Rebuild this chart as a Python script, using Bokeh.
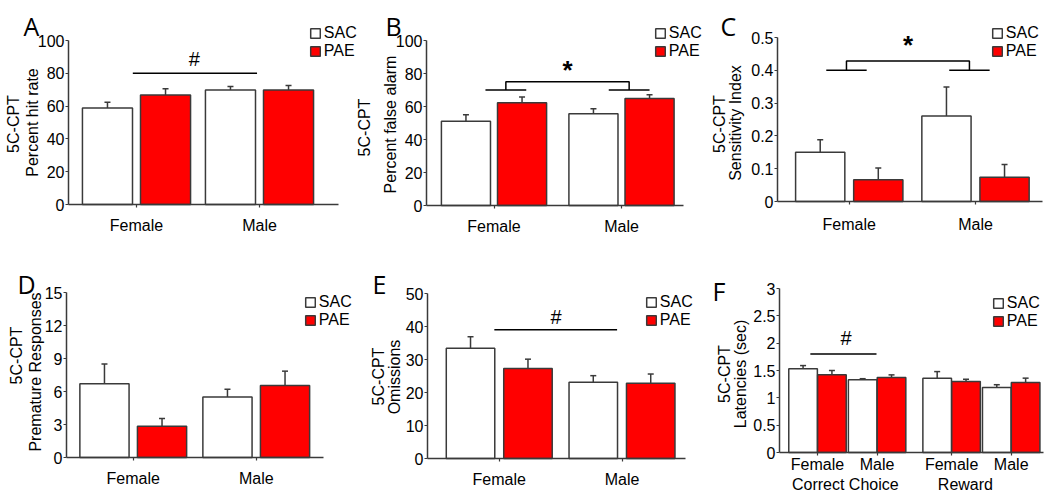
import numpy as np
from bokeh.plotting import figure
from bokeh.models import (Range1d, FixedTicker, NumeralTickFormatter, Whisker, TeeHead,
                          ColumnDataSource, Label, Legend, LegendItem, LinearAxis)
from bokeh.core.properties import value
from bokeh.transform import dodge
from bokeh.embed import file_html
from bokeh.resources import INLINE

# ---------------- data ----------------
sexes = ["Female", "Male"]
treatments = ["SAC", "PAE"]

hit_rate_sac = [58.8, 69.8]
hit_rate_sac_sem = [3.5, 2.2]
hit_rate_pae = [66.7, 69.8]
hit_rate_pae_sem = [3.9, 2.8]

false_alarm_sac = [51.1, 55.6]
false_alarm_sac_sem = [3.9, 3.0]
false_alarm_pae = [62.2, 64.8]
false_alarm_pae_sem = [3.5, 2.3]

sensitivity_sac = [0.150, 0.261]
sensitivity_sac_sem = [0.038, 0.088]
sensitivity_pae = [0.066, 0.074]
sensitivity_pae_sem = [0.036, 0.039]

premature_sac = [6.7, 5.5]
premature_sac_sem = [1.8, 0.7]
premature_pae = [2.85, 6.55]
premature_pae_sem = [0.7, 1.3]

omissions_sac = [33.4, 23.1]
omissions_sac_sem = [3.5, 2.0]
omissions_pae = [27.3, 22.8]
omissions_pae_sem = [2.8, 2.8]

latency_blocks = ["Correct Choice", "Reward"]
latency_sac = [1.53, 1.33, 1.36, 1.19]
latency_sac_sem = [0.06, 0.02, 0.12, 0.05]
latency_pae = [1.42, 1.37, 1.30, 1.28]
latency_pae_sem = [0.08, 0.05, 0.04, 0.08]

y_ticks_pct = [0, 20, 40, 60, 80, 100]
y_ticks_sens = [0, 0.1, 0.2, 0.3, 0.4, 0.5]
y_ticks_prem = [0, 3, 6, 9, 12, 15]
y_ticks_omis = [0, 10, 20, 30, 40, 50]
y_ticks_lat = [0, 0.5, 1, 1.5, 2, 2.5, 3]

# ---------------- style / layout ----------------
FONT = "Liberation Sans"
LETTER_FONT = "Open Sans"
EDGE = "#3a3a3a"
BAR_RED = "#ff0000"
FS = "16px"
W, H = 1050, 493

# pixel geometry of each panel: y-axis x, x-axis right end, baseline of y=0, top tick,
# centre of first group, pixels per group step
GEOM = {
    "A": dict(axis_x=68, axis_end=338, y0=204, ytop=40, c0=136.0, s=123.0),
    "B": dict(axis_x=426, axis_end=683, y0=205, ytop=40, c0=493.5, s=127.5),
    "C": dict(axis_x=777, axis_end=1042, y0=201, ytop=37, c0=848.75, s=126.25),
    "D": dict(axis_x=66, axis_end=323, y0=457, ytop=292, c0=132.75, s=123.0),
    "E": dict(axis_x=427, axis_end=685, y0=458, ytop=293, c0=498.75, s=122.75),
    "F": dict(axis_x=779, axis_end=1043, y0=452, ytop=288, c0=817.0, s=59.6),
}

# one canvas; the frame covers it entirely, the default ranges are page pixels (y downwards)
p = figure(width=W, height=H, x_range=Range1d(0, W), y_range=Range1d(H, 0),
           x_axis_type=None, y_axis_type=None, output_backend="svg",
           toolbar_location=None, min_border=0)
p.outline_line_color = None


def page_label(text, x, y, **kw):
    opts = dict(text_font=FONT, text_font_size=FS, text_color="black")
    opts.update(kw)
    p.add_layout(Label(x=x, y=y, text=text, **opts))


def add_panel(key, yticks, positions, labels, sac, sac_sem, pae, pae_sem, off, bw,
              ylabels, letter, letter_pos, legend_pos, x_standoff=9, numeral=False):
    g = GEOM[key]
    c0, s = g["c0"], g["s"]
    k = (g["y0"] - g["ytop"]) / yticks[-1]
    xn, yn = "x" + key, "y" + key
    p.extra_x_ranges = {**p.extra_x_ranges, xn: Range1d(-c0 / s, (W - c0) / s)}
    p.extra_y_ranges = {**p.extra_y_ranges, yn: Range1d(-(H - g["y0"]) / k, g["y0"] / k)}
    x_left = (g["axis_x"] - c0) / s
    x_right = (g["axis_end"] - c0) / s

    yax = LinearAxis(x_range_name=xn, y_range_name=yn, fixed_location=x_left,
                     bounds=(yticks[0], yticks[-1]), ticker=FixedTicker(ticks=yticks))
    if numeral:
        yax.formatter = NumeralTickFormatter(format="0.[0]")
    xax = LinearAxis(x_range_name=xn, y_range_name=yn, fixed_location=0,
                     bounds=(x_left, x_right), ticker=FixedTicker(ticks=positions),
                     major_label_overrides={pos: lab for pos, lab in zip(positions, labels)})
    for ax in (xax, yax):
        ax.axis_line_color = EDGE
        ax.axis_line_width = 1.5
        ax.major_tick_line_color = EDGE
        ax.major_tick_line_width = 1.2
        ax.minor_tick_line_color = None
        ax.major_tick_in = 0
        ax.major_tick_out = 3
        ax.major_label_text_font = FONT
        ax.major_label_text_font_size = FS
        ax.major_label_text_color = "black"
    yax.major_label_standoff = 1
    xax.major_label_standoff = x_standoff
    p.add_layout(yax, "left")
    p.add_layout(xax, "below")

    src = ColumnDataSource(dict(
        x=positions, sac=sac, pae=pae,
        sac_hi=[m + e for m, e in zip(sac, sac_sem)],
        pae_hi=[m + e for m, e in zip(pae, pae_sem)]))
    rends = []
    for key2, d, fill in (("sac", -off, "white"), ("pae", off, BAR_RED)):
        r = p.vbar(x=dodge("x", d), top=key2, bottom=0, width=bw, source=src,
                   fill_color=fill, line_color=EDGE, line_width=1.5,
                   x_range_name=xn, y_range_name=yn)
        rends.append(r)
        p.add_layout(Whisker(source=src, base=dodge("x", d), lower=key2, upper=key2 + "_hi",
                             line_color=EDGE, line_width=1.5, lower_head=None,
                             upper_head=TeeHead(size=6, line_color=EDGE, line_width=1.5),
                             x_range_name=xn, y_range_name=yn))

    # legend, positioned in page pixels from the frame's bottom-left
    lx, ly = legend_pos
    item_h = 18
    p.add_layout(Legend(
        items=[LegendItem(label=t, renderers=[r]) for t, r in zip(treatments, rends)],
        location=(lx - 1.2, H - (ly - item_h / 2) - 2 * item_h),
        padding=0, margin=0, spacing=0, border_line_color=None, background_fill_alpha=0,
        glyph_width=12, glyph_height=12, label_standoff=3, label_height=16,
        label_text_font=FONT, label_text_font_size=FS, label_text_color="black"))

    # two-line y-axis title and panel letter (page pixels)
    for text, (cx, cy) in ylabels:
        page_label(text, cx, cy, angle=np.pi / 2, text_align="center", text_baseline="middle")
    page_label(letter, letter_pos[0], letter_pos[1], text_font=LETTER_FONT,
               text_font_size="25px", text_align="left", text_baseline="alphabetic")
    return xn, yn


def hash_mark(rn, x0, x1, y_line, x_txt, y_txt):
    xn, yn = rn
    p.line(x=[x0, x1], y=[y_line, y_line], line_color="black", line_width=1.5,
           x_range_name=xn, y_range_name=yn)
    p.text(x=[x_txt], y=[y_txt], text=["#"], text_font=value(FONT), text_font_size="20px",
           text_align="center", text_baseline="alphabetic", text_color="black",
           x_range_name=xn, y_range_name=yn)


def star_bracket(rn, xa, xb, half, y_low, y_high, y_txt):
    xn, yn = rn
    p.multi_line(xs=[[xa - half, xa + half], [xa, xa, xb, xb], [xb - half, xb + half]],
                 ys=[[y_low, y_low], [y_low, y_high, y_high, y_low], [y_low, y_low]],
                 line_color="black", line_width=1.5, x_range_name=xn, y_range_name=yn)
    p.text(x=[(xa + xb) / 2], y=[y_txt], text=["*"], text_font=value(FONT), text_font_size="26px",
           text_font_style="bold", text_align="center", text_baseline="alphabetic",
           text_color="black", x_range_name=xn, y_range_name=yn)


sex_pos = list(range(len(sexes)))

rA = add_panel("A", y_ticks_pct, sex_pos, sexes, hit_rate_sac, hit_rate_sac_sem,
               hit_rate_pae, hit_rate_pae_sem, 0.236, 0.407,
               [("5C-CPT", (13, 123.5)), ("Percent hit rate", (32, 122))], "A", (23, 25), (310, 33))
hash_mark(rA, -0.03, 0.98, 80, 0.47, 89.0)

rB = add_panel("B", y_ticks_pct, sex_pos, sexes, false_alarm_sac, false_alarm_sac_sem,
               false_alarm_pae, false_alarm_pae_sem, 0.22, 0.385,
               [("5C-CPT", (364, 127)), ("Percent false alarm", (390, 124))], "B", (385, 25), (655, 33))
star_bracket(rB, 0.093, 1.06, 0.16, 70, 75, 82.0)

rC = add_panel("C", y_ticks_sens, sex_pos, sexes, sensitivity_sac, sensitivity_sac_sem,
               sensitivity_pae, sensitivity_pae_sem, 0.23, 0.39,
               [("5C-CPT", (719, 123.5)), ("Sensitivity Index", (735, 122.5))], "C", (720, 25), (992, 33),
               x_standoff=11, numeral=True)
star_bracket(rC, -0.022, 0.952, 0.16, 0.4, 0.428, 0.476)

rD = add_panel("D", y_ticks_prem, sex_pos, sexes, premature_sac, premature_sac_sem,
               premature_pae, premature_pae_sem, 0.234, 0.40,
               [("5C-CPT", (16, 355)), ("Premature Responses", (35, 371.5))], "D", (17, 283), (305, 302))

rE = add_panel("E", y_ticks_omis, sex_pos, sexes, omissions_sac, omissions_sac_sem,
               omissions_pae, omissions_pae_sem, 0.234, 0.395,
               [("5C-CPT", (377.5, 376)), ("Omissions", (394, 376.5))], "E", (372, 283), (646, 302))
hash_mark(rE, -0.04, 0.96, 39, 0.462, 43.0)

# panel F: two blocks of (Female, Male)
lat_pos = [b * (len(sexes) + 0.25) + i for b in range(len(latency_blocks)) for i in range(len(sexes))]
lat_labels = [sx for _ in latency_blocks for sx in sexes]
rF = add_panel("F", y_ticks_lat, lat_pos, lat_labels, latency_sac, latency_sac_sem,
               latency_pae, latency_pae_sem, 0.242, 0.48,
               [("5C-CPT", (724, 373.5)), ("Latencies (sec)", (740, 373.5))], "F", (712, 290), (993, 303),
               x_standoff=0, numeral=True)
hash_mark(rF, -0.12, 0.99, 1.8, 0.48, 2.10)
for bi, (block, dx) in enumerate(zip(latency_blocks, [-2, -16])):
    bx = sum(lat_pos[bi * 2: bi * 2 + 2]) / 2
    p.add_layout(Label(x=bx, y=0, x_offset=dx, y_offset=-32, text=block, text_align="center",
                       text_baseline="alphabetic", text_font=FONT, text_font_size=FS,
                       text_color="black", x_range_name=rF[0], y_range_name=rF[1]))

open("out.html", "w").write(file_html(p, INLINE))
